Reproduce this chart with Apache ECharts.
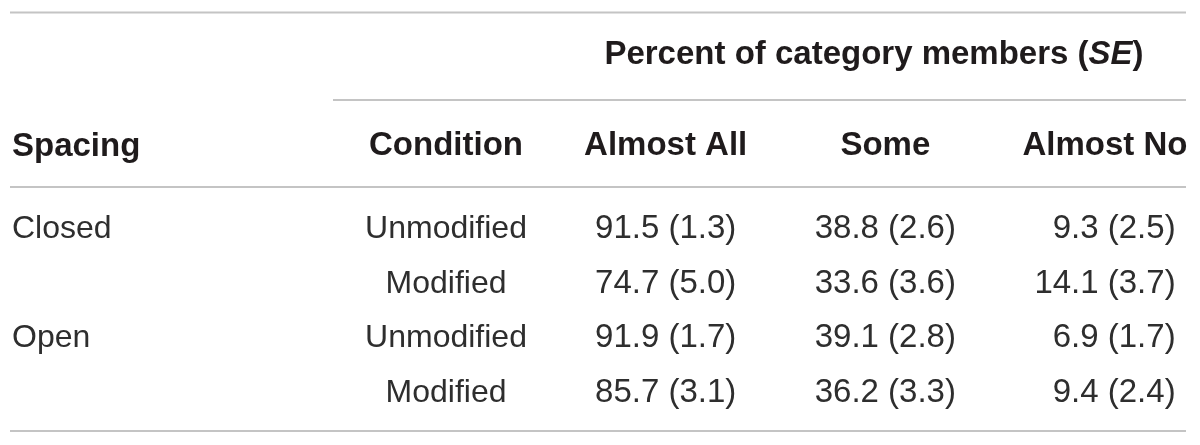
<!DOCTYPE html>
<html><head><meta charset="utf-8">
<script src="https://cdn.jsdelivr.net/npm/echarts@6/dist/echarts.min.js"></script>
<style>html,body{margin:0;padding:0;background:#fff}#c{width:1200px;height:445px}</style>
</head><body><div id="c"></div>
<script>
// ---- table content ----
const spacingHeader = 'Spacing';
const groupHeader = 'Percent of category members';
const groupHeaderItalic = 'SE';
const columns = ['Condition', 'Almost All', 'Some', 'Almost No'];
const spacing = ['Closed', '', 'Open', ''];
const conditions = ['Unmodified', 'Modified', 'Unmodified', 'Modified'];
const almostAll = [91.5, 74.7, 91.9, 85.7];
const almostAllSE = [1.3, 5.0, 1.7, 3.1];
const some = [38.8, 33.6, 39.1, 36.2];
const someSE = [2.6, 3.6, 2.8, 3.3];
const almostNo = [9.3, 14.1, 6.9, 9.4];
const almostNoSE = [2.5, 3.7, 1.7, 2.4];

const FONT = '"Liberation Sans", Arial, Helvetica, sans-serif';
const TXT = '#1f1b1c';
const BODY = '#2e2e2e';
const RULE = '#c4c4c4';
const FS = 32;
const FSB = 33;
const FSN = 33;

function cell(v, se) {
  const s = v.toFixed(1) + ' (' + se.toFixed(1) + ')';
  return (v < 10 ? '\u2007' : '') + s;
}

const hidden = { color: 'rgba(0,0,0,0)', opacity: 1 };

function valueSeries(colIdx, vals, ses) {
  return {
    type: 'scatter',
    symbolSize: 1,
    itemStyle: hidden,
    data: vals.map((v, i) => [colIdx, i]),
    label: {
      show: true, position: 'inside', align: 'center', verticalAlign: 'middle',
      fontFamily: FONT, fontSize: FSN, color: BODY, opacity: 1,
      formatter: p => cell(vals[p.dataIndex], ses[p.dataIndex])
    },
    emphasis: { disabled: true },
    silent: true
  };
}

const chart = echarts.init(document.getElementById('c'), null, { renderer: 'canvas' });
chart.setOption({
  animation: false,
  backgroundColor: '#fff',
  title: {
    text: groupHeader + ' ({i|' + groupHeaderItalic + '})',
    left: 869, top: 33, textAlign: 'center',
    textStyle: {
      fontFamily: FONT, fontSize: FSB, fontWeight: 'bold', color: TXT,
      rich: { i: { fontFamily: FONT, fontSize: FSB, fontWeight: 'bold', fontStyle: 'italic', color: TXT } }
    }
  },
  grid: { left: 446, top: 202, width: 659, height: 218, containLabel: false },
  xAxis: {
    type: 'category', position: 'top', data: columns, boundaryGap: false,
    axisLine: { show: false }, axisTick: { show: false }, splitLine: { show: false },
    axisLabel: { fontFamily: FONT, fontSize: FSB, fontWeight: 'bold', color: TXT, margin: 40, interval: 0 }
  },
  yAxis: {
    type: 'category', inverse: true, data: spacing.map((s, i) => String(i)),
    axisLine: { show: false }, axisTick: { show: false }, splitLine: { show: false },
    axisLabel: {
      align: 'left', margin: 434, fontFamily: FONT, fontSize: FS, color: BODY, interval: 0,
      formatter: (v, i) => spacing[i]
    }
  },
  graphic: [
    { type: 'line', shape: { x1: 10, y1: 12.5, x2: 1186, y2: 12.5 }, style: { stroke: RULE, lineWidth: 2 }, silent: true },
    { type: 'line', shape: { x1: 333, y1: 100, x2: 1186, y2: 100 }, style: { stroke: RULE, lineWidth: 2 }, silent: true },
    { type: 'line', shape: { x1: 10, y1: 187, x2: 1186, y2: 187 }, style: { stroke: RULE, lineWidth: 2 }, silent: true },
    { type: 'line', shape: { x1: 10, y1: 431, x2: 1186, y2: 431 }, style: { stroke: RULE, lineWidth: 2 }, silent: true },
    { type: 'text', left: 12, top: 130, style: { text: spacingHeader, font: 'bold ' + FSB + 'px ' + FONT, fill: TXT }, silent: true }
  ],
  series: [
    {
      type: 'scatter', symbolSize: 1, itemStyle: hidden, silent: true,
      emphasis: { disabled: true },
      data: conditions.map((c, i) => [0, i]),
      label: {
        show: true, position: 'inside', align: 'center', verticalAlign: 'middle',
        fontFamily: FONT, fontSize: FS, color: BODY, opacity: 1,
        formatter: p => conditions[p.dataIndex]
      }
    },
    valueSeries(1, almostAll, almostAllSE),
    valueSeries(2, some, someSE),
    valueSeries(3, almostNo, almostNoSE)
  ]
});
</script>
</body></html>
